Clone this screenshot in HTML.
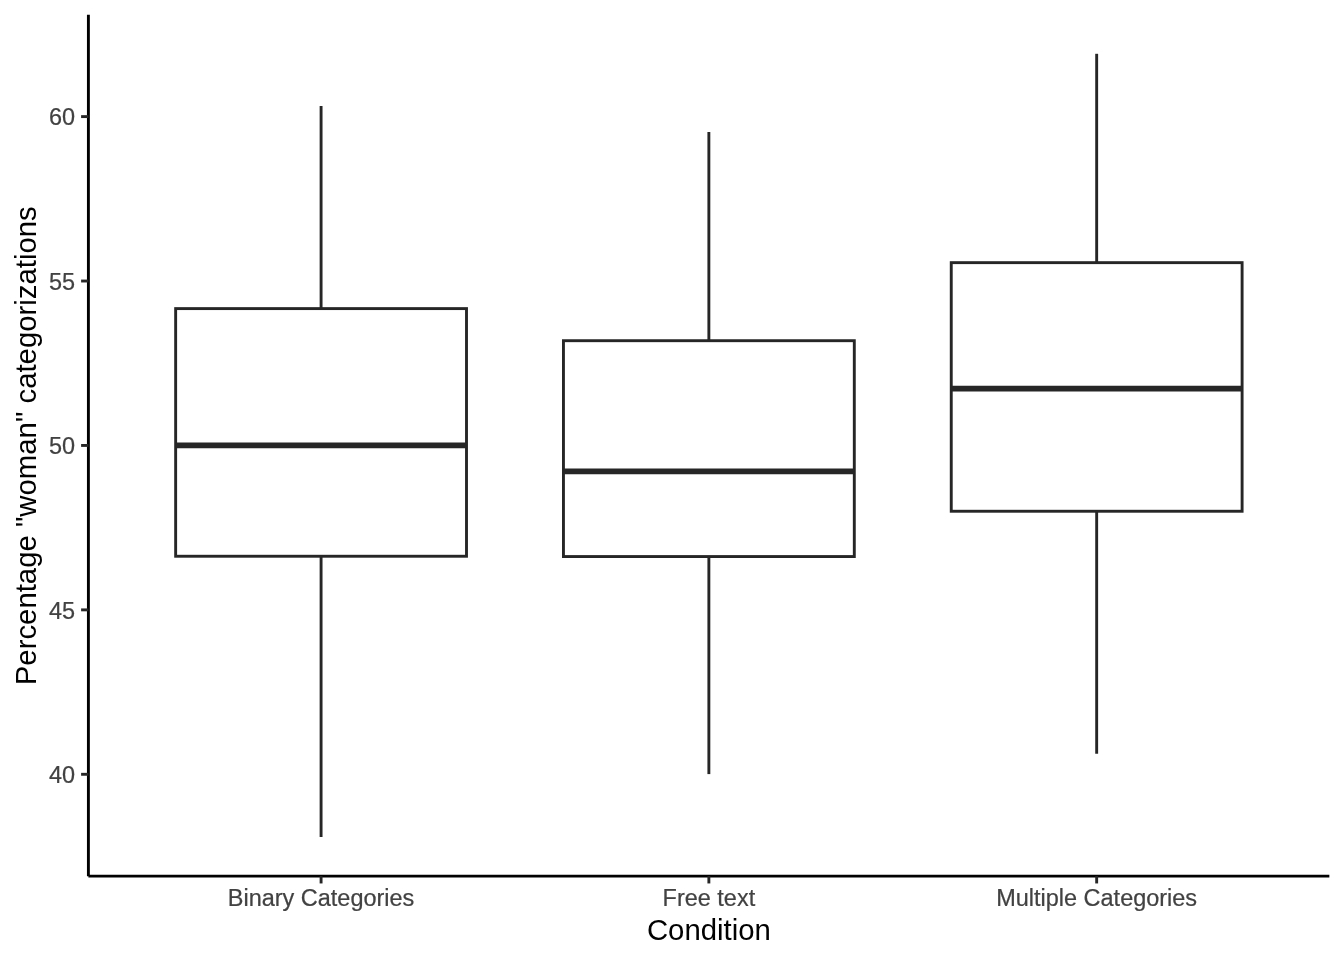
<!DOCTYPE html>
<html lang="en"><head><meta charset="utf-8"><title>Boxplot</title>
<style>
html,body{margin:0;padding:0;background:#fff;}
body{width:1344px;height:960px;overflow:hidden;position:relative;}
svg{display:block;position:absolute;left:0;top:0;will-change:transform;opacity:0.999;}
text{font-family:"Liberation Sans",Arial,Helvetica,sans-serif;}
.at{font-size:23.47px;fill:#424242;stroke:#424242;stroke-width:0.22px;stroke-linejoin:round;}
.ti{font-size:29.33px;fill:#000;}
</style></head><body>
<svg width="1344" height="960" viewBox="0 0 1344 960">
<rect x="0" y="0" width="1344" height="960" fill="#ffffff"/>
<g stroke="#262626" stroke-width="2.9" fill="none" stroke-linecap="butt" stroke-linejoin="miter">
<line x1="321.08" y1="308.60" x2="321.08" y2="106.00"/>
<line x1="321.08" y1="556.25" x2="321.08" y2="837.00"/>
<rect x="175.65" y="308.60" width="290.85" height="247.65" fill="#ffffff"/>
<line x1="175.65" y1="445.35" x2="466.50" y2="445.35" stroke-width="5.69"/>
</g>
<g stroke="#262626" stroke-width="2.9" fill="none" stroke-linecap="butt" stroke-linejoin="miter">
<line x1="708.87" y1="340.70" x2="708.87" y2="132.00"/>
<line x1="708.87" y1="556.55" x2="708.87" y2="774.10"/>
<rect x="563.45" y="340.70" width="290.85" height="215.85" fill="#ffffff"/>
<line x1="563.45" y1="471.30" x2="854.30" y2="471.30" stroke-width="5.69"/>
</g>
<g stroke="#262626" stroke-width="2.9" fill="none" stroke-linecap="butt" stroke-linejoin="miter">
<line x1="1096.67" y1="262.65" x2="1096.67" y2="53.80"/>
<line x1="1096.67" y1="511.25" x2="1096.67" y2="753.75"/>
<rect x="951.25" y="262.65" width="290.85" height="248.60" fill="#ffffff"/>
<line x1="951.25" y1="388.60" x2="1242.10" y2="388.60" stroke-width="5.69"/>
</g>
<g stroke="#000000" stroke-width="2.9" fill="none">
<line x1="88.4" y1="876.15" x2="88.4" y2="14.7"/>
<line x1="88.4" y1="876.15" x2="1329.35" y2="876.15"/>
</g>
<g stroke="#262626" stroke-width="2.9" fill="none">
<line x1="81.10" y1="774.30" x2="88.40" y2="774.30"/>
<line x1="81.10" y1="609.87" x2="88.40" y2="609.87"/>
<line x1="81.10" y1="445.45" x2="88.40" y2="445.45"/>
<line x1="81.10" y1="281.02" x2="88.40" y2="281.02"/>
<line x1="81.10" y1="116.60" x2="88.40" y2="116.60"/>
<line x1="321.08" y1="876.15" x2="321.08" y2="883.45"/>
<line x1="708.87" y1="876.15" x2="708.87" y2="883.45"/>
<line x1="1096.67" y1="876.15" x2="1096.67" y2="883.45"/>
</g>
<text class="at" x="75.00" y="783" text-anchor="end">40</text>
<text class="at" x="75.00" y="619" text-anchor="end">45</text>
<text class="at" x="75.00" y="454" text-anchor="end">50</text>
<text class="at" x="75.00" y="290" text-anchor="end">55</text>
<text class="at" x="75.00" y="125" text-anchor="end">60</text>
<text class="at" x="321.08" y="906" text-anchor="middle">Binary Categories</text>
<text class="at" x="708.87" y="906" text-anchor="middle">Free text</text>
<text class="at" x="1096.67" y="906" text-anchor="middle">Multiple Categories</text>
<text class="ti" x="708.88" y="940.3" text-anchor="middle">Condition</text>
<text class="ti" x="0" y="0" text-anchor="middle" transform="translate(35.5,445.73) rotate(-90)">Percentage "woman" categorizations</text>
</svg>
</body></html>
